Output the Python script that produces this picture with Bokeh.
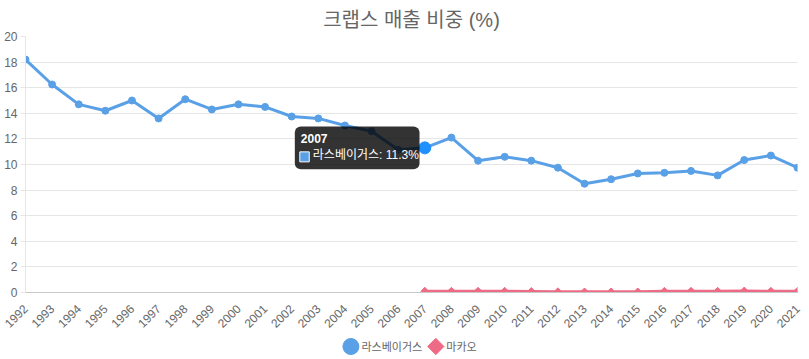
import math
from bokeh.plotting import figure
from bokeh.layouts import column
from bokeh.models import Range1d, FixedTicker, Label
from bokeh.embed import file_html
from bokeh.resources import INLINE

# ---- data ----
years = list(range(1992, 2022))
year_labels = [str(y) for y in years]
vegas_values = [18.2, 16.25, 14.7, 14.2, 15.0, 13.6, 15.1, 14.3, 14.7, 14.5,
                13.75, 13.6, 13.05, 12.6, 11.15, 11.3, 12.1, 10.3, 10.6, 10.3,
                9.75, 8.5, 8.85, 9.3, 9.35, 9.5, 9.15, 10.35, 10.7, 9.75]
macau_years = list(range(2007, 2022))
macau_values = [0.1, 0.1, 0.1, 0.1, 0.08, 0.06, 0.05, 0.05, 0.05, 0.1,
                0.1, 0.1, 0.12, 0.1, 0.1]
y_ticks = list(range(0, 21, 2))
title_text = "크랩스 매출 비중 (%)"
series_names = ["라스베이거스", "마카오"]
hover_year = 2007

BLUE = "#59a0e6"
PINK = "#ee6b86"
HOVER = "#1e90ff"
FONT = "'Liberation Sans', 'Noto Sans CJK KR', sans-serif"

hover_value = vegas_values[years.index(hover_year)]

W = 809
MAIN_H = 334
LEG_H = 25

p = figure(output_backend="svg", toolbar_location=None,
           width=W, height=MAIN_H,
           x_range=Range1d(years[0], years[-1]), y_range=Range1d(0, 20),
           min_border_left=25, min_border_right=12, min_border_top=36,
           min_border_bottom=42)
p.outline_line_color = None
p.background_fill_color = "white"

p.title.text = title_text
p.title.align = "center"
p.title.text_font = FONT
p.title.text_font_size = "20px"
p.title.text_font_style = "normal"
p.title.text_color = "#666666"
p.title.offset = -6
p.title.standoff = 12

# axes
xa = p.xaxis[0]
xa.ticker = FixedTicker(ticks=years)
xa.major_label_overrides = {y: s for y, s in zip(years, year_labels)}
xa.major_label_orientation = math.pi / 4
xa.major_label_text_font = FONT
xa.major_label_text_font_size = "12px"
xa.major_label_text_color = "#666666"
xa.major_tick_line_color = None
xa.minor_tick_line_color = None
xa.axis_line_color = "#c8c8c8"
xa.major_label_standoff = 8

ya = p.yaxis[0]
ya.ticker = FixedTicker(ticks=y_ticks)
ya.major_label_text_font = FONT
ya.major_label_text_font_size = "12px"
ya.major_label_text_color = "#666666"
ya.major_tick_line_color = "#e6e6e6"
ya.major_tick_in = 0
ya.major_tick_out = 5
ya.minor_tick_line_color = None
ya.axis_line_color = "#e6e6e6"
ya.major_label_standoff = 3

p.xgrid.grid_line_color = None
p.ygrid.grid_line_color = "#e6e6e6"
p.ygrid.ticker = FixedTicker(ticks=y_ticks[1:])

# series
p.line(years, vegas_values, line_color=BLUE, line_width=3)
p.scatter(years, vegas_values, marker="circle", size=7,
          fill_color=BLUE, line_color=BLUE)
p.line(macau_years, macau_values, line_color=PINK, line_width=3)
p.scatter(macau_years, macau_values, marker="square", angle=math.pi / 4,
          size=5.5, fill_color=PINK, line_color=PINK)

# hovered point
p.scatter([hover_year], [hover_value], marker="circle", size=12,
          fill_color=HOVER, line_color=HOVER)

# tooltip
body_text = f"{series_names[0]}: {hover_value}%"
box = Label(x=hover_year, y=hover_value, x_offset=-130, y_offset=0,
            text=f"{hover_year}\n  {body_text}",
            text_font=FONT, text_font_size="12px", text_color="#333333",
            text_align="left", text_baseline="middle",
            background_fill_color="black", background_fill_alpha=0.8,
            padding=6, border_radius=6)
p.add_layout(box)
tt_title = Label(x=hover_year, y=hover_value, x_offset=-124, y_offset=14,
                 text=str(hover_year), text_font=FONT, text_font_size="12px",
                 text_font_style="bold", text_color="white",
                 text_align="left", text_baseline="top")
p.add_layout(tt_title)
tt_swatch = Label(x=hover_year, y=hover_value, x_offset=-125, y_offset=-14,
                  text="■", text_font=FONT, text_font_size="9px",
                  text_color=BLUE, background_fill_color=BLUE,
                  border_line_color="white", border_line_width=1,
                  text_align="left", text_baseline="bottom",
                  padding=dict(top=0, right=2, bottom=0, left=2))
p.add_layout(tt_swatch)
tt_body = Label(x=hover_year, y=hover_value, x_offset=-112, y_offset=-14,
                text=body_text, text_font=FONT,
                text_font_size="12px", text_color="white",
                text_align="left", text_baseline="bottom")
p.add_layout(tt_body)

# legend strip (pixel-unit ranges)
p2 = figure(output_backend="svg", toolbar_location=None,
            width=W, height=LEG_H, x_range=Range1d(0, W), y_range=Range1d(0, LEG_H),
            min_border=0)
p2.axis.visible = False
p2.grid.visible = False
p2.outline_line_color = None

leg_x0 = 341          # centre of first legend key
leg_y = LEG_H - 12    # vertical centre of legend row
key_gap = 11          # key centre -> label start
item_gap = 89         # first key centre -> second key centre

p2.scatter([leg_x0], [leg_y], marker="circle", size=16,
           fill_color=BLUE, line_color=BLUE)
p2.scatter([leg_x0 + item_gap], [leg_y], marker="square", angle=math.pi / 4,
           size=11.5, fill_color=PINK, line_color=PINK)
for i, name in enumerate(series_names):
    p2.add_layout(Label(x=leg_x0 + i * item_gap + key_gap, y=leg_y, text=name,
                        text_font=FONT, text_font_size="11px",
                        text_color="#666666", text_align="left",
                        text_baseline="middle"))

layout = column(p, p2, spacing=0)
open("out.html", "w").write(file_html(layout, INLINE))
